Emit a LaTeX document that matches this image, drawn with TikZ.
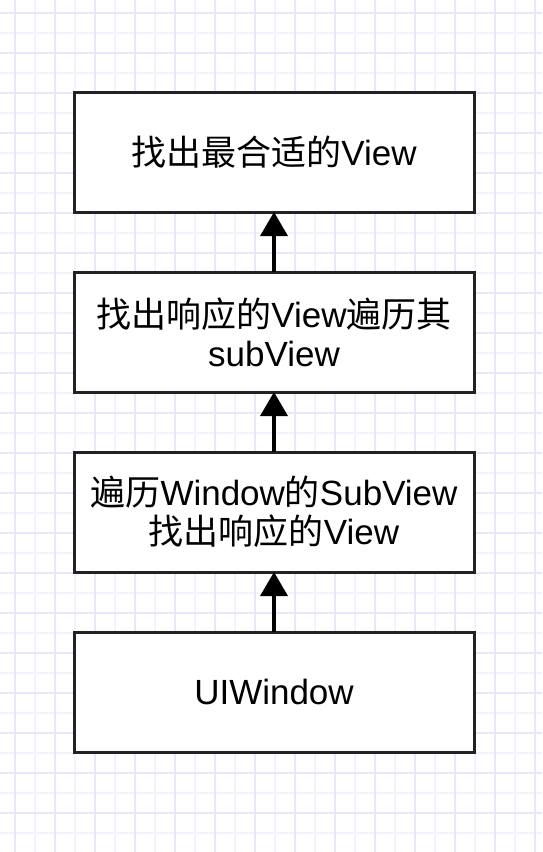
\documentclass[tikz,border=0pt]{standalone}
\usepackage{fontspec}
\setmainfont{Liberation Sans}
\newfontfamily\cjk{Noto Sans CJK SC}
\usepackage{xcolor}
\usetikzlibrary{arrows.meta, positioning}

\definecolor{gridminor}{RGB}{244,242,255}
\definecolor{gridmajor}{RGB}{234,231,252}
\definecolor{boxline}{RGB}{34,34,34}

\begin{document}
\begin{tikzpicture}[
  x=1pt, y=-1pt,
  node distance=60pt,
  box/.style={rectangle, draw=boxline, line width=3pt, fill=white,
              minimum width=400pt, minimum height=120pt, inner sep=0pt,
              outer sep=0pt, align=center,
              font=\fontsize{35}{39}\selectfont},
  arr/.style={-{Triangle[length=24pt, width=27pt]}, line width=3.5pt, draw=black},
  minorline/.style={draw=gridminor, line width=1.2pt},
  majorline/.style={draw=gridmajor, line width=1.4pt}
]
  \useasboundingbox (0,0) rectangle (542,852);
  \fill[white] (0,0) rectangle (542,852);

  % background grid
  \foreach \x in {15,35,...,535} \draw[minorline] (\x,0) -- (\x,852);
  \foreach \y in {13,33,...,833} \draw[minorline] (0,\y) -- (542,\y);
  \foreach \x in {15,55,...,535} \draw[majorline] (\x,0) -- (\x,852);
  \foreach \y in {13,53,...,833} \draw[majorline] (0,\y) -- (542,\y);

  \node[box] (window) at (274,692) {UIWindow};
  \node[box, above=of window] (subview) {{\cjk 遍历}Window{\cjk 的}SubView\\{\cjk 找出响应的}View};
  \node[box, above=of subview] (respond) {{\cjk 找出响应的}View{\cjk 遍历其}\\subView};
  \node[box, above=of respond] (best) {{\cjk 找出最合适的}View};

  \draw[arr] (window)  -- (subview);
  \draw[arr] (subview) -- (respond);
  \draw[arr] (respond) -- (best);
\end{tikzpicture}
\end{document}
